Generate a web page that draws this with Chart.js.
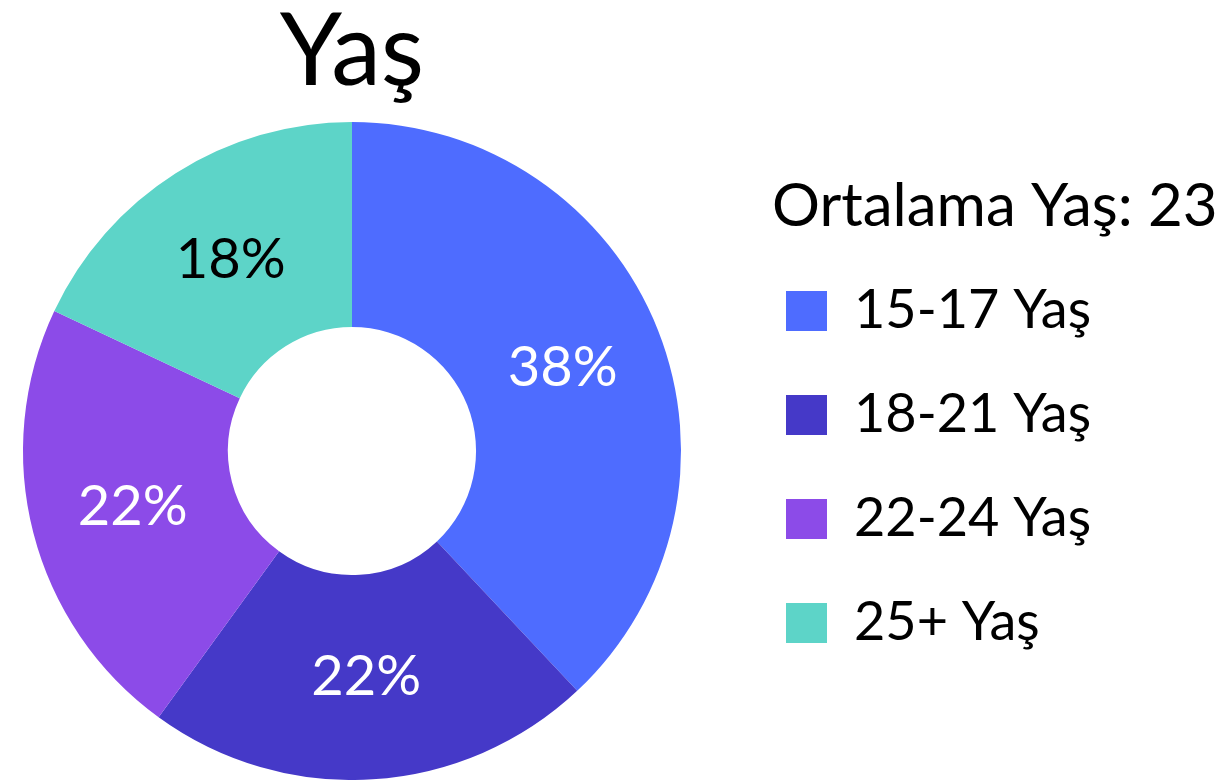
<!DOCTYPE html>
<html lang="tr">
<head>
<meta charset="utf-8">
<title>Yaş</title>
<script src="https://cdn.jsdelivr.net/npm/chart.js@4.4.1/dist/chart.umd.min.js"></script>
<style>
  html, body { margin: 0; padding: 0; background: #fff; }
  #wrap { width: 1226px; height: 780px; position: relative; }
</style>
</head>
<body>
<div id="wrap"><canvas id="age-chart"></canvas></div>
<script>
'use strict';

// DATA

let ageGroups = ['15-17 Yaş', '18-21 Yaş', '22-24 Yaş', '25+ Yaş'];
let shares = [38, 22, 22, 18];
let sliceColors = ['#4e6cff', '#4539c8', '#8c4be8', '#5dd4c8'];
let labelColors = ['#ffffff', '#ffffff', '#ffffff', '#000000'];
let chartTitle = 'Yaş';
let legendHeading = 'Ortalama Yaş: 23';

// LAYOUT SETTINGS

let fontFamily = 'Lato';
let labelSize = 54;
let labelPad = 82;
let rowHeight = 22;   // legend row height without padding (row step = rowHeight + labelPad)
let boxW = 41;
let boxH = 40;
let legendLeft = 704;

Chart.defaults.font.family = fontFamily;
Chart.defaults.color = '#000';

// legend width comes from its text, measure it so the legend sits where the picture has it
let meas = document.createElement('canvas').getContext('2d');
meas.font = 'normal ' + labelSize + 'px ' + fontFamily;
let widest = 0;
for (let i = 0; i < ageGroups.length; i++) {
  widest = Math.max(widest, meas.measureText(ageGroups[i]).width);
}
let legendW = labelPad + boxW + labelSize / 2 + widest + 10;
let rightPad = 1226 - legendLeft - legendW;

// PERCENT LABELS INSIDE THE SLICES

let sliceLabels = {
  id: 'sliceLabels',
  afterDatasetsDraw(chart) {
    let ctx = chart.ctx;
    let meta = chart.getDatasetMeta(0);
    ctx.save();
    ctx.font = 'normal 56px ' + fontFamily;
    ctx.textAlign = 'center';
    ctx.textBaseline = 'middle';
    meta.data.forEach(function (arc, i) {
      let pt = arc.getCenterPoint();
      ctx.fillStyle = labelColors[i];
      ctx.fillText(shares[i] + '%', pt.x, pt.y);
    });
    ctx.restore();
  }
};

// LEGEND HEADING (one row above the first legend item, a bit left of the boxes)

let legendHeader = {
  id: 'legendHeader',
  afterDraw(chart) {
    let boxes = chart.legend.legendHitBoxes;
    if (!boxes || boxes.length < 2) return;
    let step = boxes[1].top - boxes[0].top;
    let ctx = chart.ctx;
    ctx.save();
    ctx.font = 'normal 60px ' + fontFamily;
    ctx.fillStyle = '#000';
    ctx.textAlign = 'left';
    ctx.textBaseline = 'middle';
    ctx.fillText(legendHeading, boxes[0].left - 14, boxes[0].top + labelSize / 2 - step);
    ctx.restore();
  }
};

// CHART

let ctx = document.getElementById('age-chart').getContext('2d');

new Chart(ctx, {
  type: 'doughnut',
  data: {
    labels: ageGroups,
    datasets: [{
      data: shares,
      backgroundColor: sliceColors,
      borderWidth: 0
    }]
  },
  options: {
    responsive: true,
    maintainAspectRatio: false,
    animation: false,
    cutout: '37.7%',
    layout: {
      padding: { left: 0, right: rightPad, top: 0, bottom: 0 }
    },
    plugins: {
      title: {
        display: true,
        text: chartTitle,
        fullSize: false,
        color: '#000',
        font: { family: fontFamily, size: 100, weight: 'normal', lineHeight: 1 },
        padding: { top: 3, bottom: 19 }
      },
      legend: {
        position: 'right',
        align: 'center',
        fullSize: false,
        labels: {
          boxWidth: boxW,
          boxHeight: boxH,
          padding: labelPad,
          color: '#000',
          font: { family: fontFamily, size: labelSize, lineHeight: rowHeight / labelSize },
          generateLabels(chart) {
            let items = Chart.overrides.doughnut.plugins.legend.labels.generateLabels(chart);
            // array text makes Chart.js use font.lineHeight as row height
            items.forEach(function (item) { item.text = [item.text]; });
            return items;
          }
        }
      },
      tooltip: { enabled: false }
    }
  },
  plugins: [sliceLabels, legendHeader]
});
</script>
</body>
</html>
